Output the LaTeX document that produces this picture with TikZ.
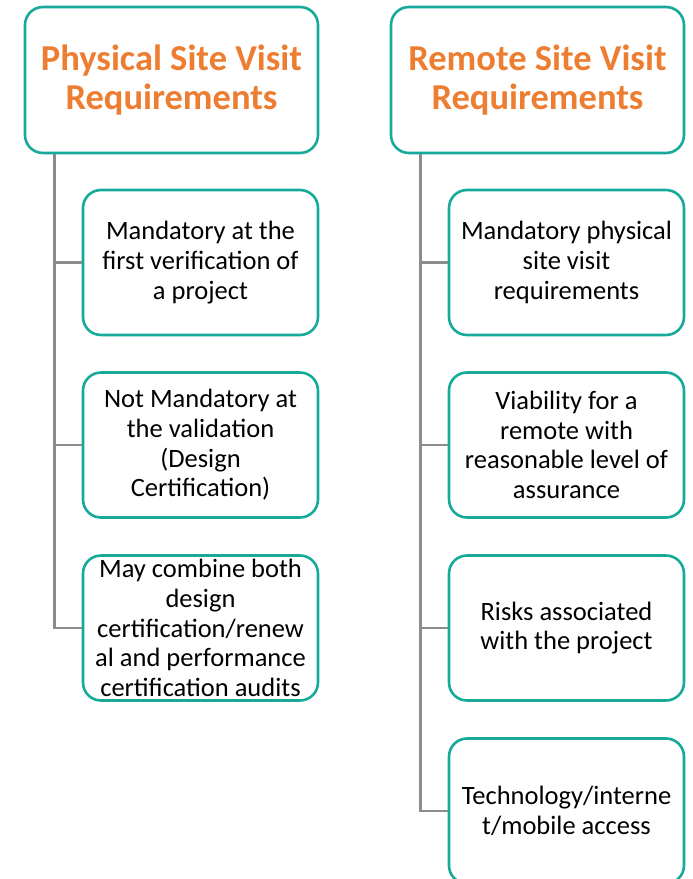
\documentclass[tikz,border=0pt]{standalone}
\usepackage{fontspec}
\setmainfont{Carlito}
\usepackage{xcolor}
\usetikzlibrary{calc}
\definecolor{boxteal}{HTML}{17AA9A}
\definecolor{headorange}{HTML}{ED7D31}
\definecolor{linegray}{HTML}{8C8C8C}

\begin{document}
\begin{tikzpicture}[x=1pt, y=-1pt,
    header/.style={draw=boxteal, line width=2.6pt, rounded corners=18pt, fill=white,
        minimum width=293pt, minimum height=146pt, align=center, text=headorange,
        font=\fontsize{36.5}{38.5}\selectfont\bfseries},
    item/.style={draw=boxteal, line width=2.6pt, rounded corners=18pt, fill=white,
        minimum width=235pt, minimum height=145pt, inner ysep=1pt, align=center,
        font=\fontsize{26.5}{29.6}\selectfont},
    branch/.style={draw=linegray, line width=2.8pt}]
    \useasboundingbox (0,0) rectangle (693,879);
    % header nodes
    \node[header] (phys) at (171.5, 80) {Physical Site Visit\\Requirements};
    \node[header] (remote) at (537.5, 80) {Remote Site Visit\\Requirements};
    % physical site visit items
    \node[item] (p1) at (200.5, 262.5) {Mandatory at the\\first verification of\\a project};
    \node[item] (p2) at (200.5, 445) {Not Mandatory at\\the validation\\(Design\\Certification)};
    \node[item] (p3) at (200.5, 628) {May combine both\\design\\certification/renew\\al and performance\\certification audits};
    % remote site visit items
    \node[item] (r1) at (566.5, 262.5) {Mandatory physical\\site visit\\requirements};
    \node[item] (r2) at (566.5, 445) {Viability for a\\remote with\\reasonable level of\\assurance};
    \node[item] (r3) at (566.5, 628) {Risks associated\\with the project};
    \node[item] (r4) at (566.5, 811) {Technology/interne\\t/mobile access};
    % trunk coordinates
    \coordinate (pt) at ($(phys.south west)+(31,0)$);
    \coordinate (rt) at ($(remote.south west)+(30.5,0)$);
    % physical branches
    \draw[branch] (pt) |- (p3.west);
    \draw[branch] (pt |- p1.west) -- (p1.west);
    \draw[branch] (pt |- p2.west) -- (p2.west);
    % remote branches
    \draw[branch] (rt) |- (r4.west);
    \draw[branch] (rt |- r1.west) -- (r1.west);
    \draw[branch] (rt |- r2.west) -- (r2.west);
    \draw[branch] (rt |- r3.west) -- (r3.west);
\end{tikzpicture}
\end{document}
